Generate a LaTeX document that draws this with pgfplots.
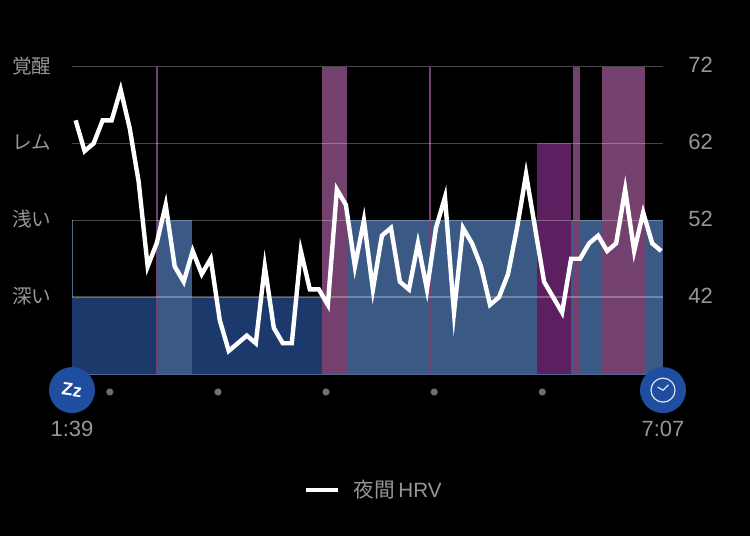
\documentclass[border=0pt]{standalone}
\usepackage{pgfplots}
\usepackage{pgfplotstable}
\pgfplotsset{compat=1.18}
\usepackage{fontspec}
\setmainfont{Liberation Sans}
\newfontfamily\jp{Noto Sans CJK JP}
\definecolor{deep}{HTML}{1B3A6B}
\definecolor{light}{HTML}{3A5A85}
\definecolor{awake}{HTML}{74416F}
\definecolor{rem}{HTML}{5C1F60}
\definecolor{txt}{HTML}{969696}
\definecolor{dotc}{HTML}{6F6F6F}
\definecolor{iconb}{HTML}{1F4EA1}
\definecolor{edge}{HTML}{4F6A90}
% minutes after 1:39, nightly HRV
\pgfplotstableread{
t hrv
2 65
7 61
12 62
17 65
22 65
27 69
32 64
37 57
42 46
47 49
52 54
57 46
62 44
67 48
72 45
77 47
82 39
87 35
92 36
97 37
102 36
107 46
112 38
117 36
122 36
127 48
132 43
137 43
142 41
147 56
152 54
157 46
162 52
167 43
172 50
177 51
182 44
187 43
192 49
197 43
202 51
207 55
212 40
217 51
222 49
227 46
232 41
237 42
242 45
247 51
252 58
257 51
262 44
267 42
272 40
277 47
282 47
287 49
292 50
297 48
302 49
307 56
312 48
317 53
322 49
327 48
}\hrvtable
\newcommand{\stage}[4]{\addplot[fill=#1,draw=none,forget plot] coordinates {(#2,32)(#2,#4)(#3,#4)(#3,32)} -- cycle;}
\begin{document}
\begin{tikzpicture}
\path[use as bounding box,fill=black] (0,0) rectangle (562.5pt,402pt);
\begin{axis}[
  at={(54pt,121.5pt)},anchor=south west,
  width=443.25pt,height=230.6pt,scale only axis,
  xmin=0,xmax=328,ymin=32,ymax=72,
  axis line style={draw=none},
  clip=false,
  axis on top,
  xtick={0,328},xticklabels={1:39,7:07},
  xticklabel style={text=txt,font=\fontsize{16.5pt}{18pt}\selectfont,yshift=-32pt},
  ytick={42,52,62,72},yticklabels={深い,浅い,レム,覚醒},
  yticklabel style={text=txt,font=\jp\fontsize{14.7pt}{16pt}\selectfont},
  ymajorgrids,
  grid style={white,opacity=0.28,line width=1pt},
  major tick length=0pt,
  y tick label style={xshift=-12pt,yshift=0.7pt},
  legend style={at={(axis cs:167.6,16.9)},anchor=center,draw=none,fill=none,text=txt,font=\fontsize{15.5pt}{18pt}\selectfont,inner sep=0pt},
  legend image code/.code={\draw[white,line width=3pt] (0pt,0pt)--(24pt,0pt);},
]
\stage{deep}{0}{46.6}{42}
\stage{light}{46.6}{66.6}{52}
\stage{deep}{66.6}{138.7}{42}
\stage{awake}{138.7}{152.6}{72}
\stage{light}{152.6}{198.4}{52}
\stage{awake}{198.4}{199.4}{72}
\stage{light}{199.4}{258.1}{52}
\stage{rem}{258.1}{277}{62}
\stage{light}{277}{278}{52}
\stage{awake}{278}{282}{72}
\stage{light}{282}{294}{52}
\stage{awake}{294}{318}{72}
\stage{light}{318}{328}{52}
\stage{awake}{46.6}{47.6}{72}
\addplot[edge,line width=0.6pt,forget plot] coordinates {(0,42)(0,52)};
\addplot[edge,line width=0.6pt,forget plot] coordinates {(0,32)(328,32)};
\addplot[white,line width=3.3pt,miter limit=20,line join=miter] table[x=t,y=hrv] {\hrvtable};
\addlegendentry{\hspace{8.5pt}{\jp 夜間}\,HRV}
\addplot[only marks,mark=*,mark size=3pt,mark options={fill=dotc,draw=none},forget plot] coordinates {(21,29.66)(81,29.66)(141,29.66)(201,29.66)(261,29.66)};
\fill[iconb] (axis cs:0,29.9) circle[radius=17.25pt];
\node[white,font=\bfseries\fontsize{13.5pt}{13pt}\selectfont,rotate=-8] at (axis cs:0,29.9) {Zz};
\fill[iconb] (axis cs:328,29.9) circle[radius=17.25pt];
\draw[white!85!iconb,line width=0.9pt] (axis cs:328,29.9) circle[radius=9pt];
\draw[white!85!iconb,line width=0.9pt] (axis cs:325,30.3)--(axis cs:328,29.9)--(axis cs:331,30.6);
\end{axis}
\begin{axis}[
  at={(54pt,121.5pt)},anchor=south west,
  width=443.25pt,height=230.6pt,scale only axis,
  xmin=0,xmax=328,ymin=32,ymax=72,
  axis line style={draw=none},
  xtick=\empty,
  axis y line*=right,
  ytick={42,52,62,72},
  major tick length=0pt,
  yticklabel style={text=txt,font=\fontsize{16.5pt}{18pt}\selectfont,xshift=15.5pt,yshift=1pt},
  /pgf/number format/assume math mode=true,
]
\addplot[draw=none] coordinates {(0,32)(328,72)};
\end{axis}
\end{tikzpicture}
\end{document}
